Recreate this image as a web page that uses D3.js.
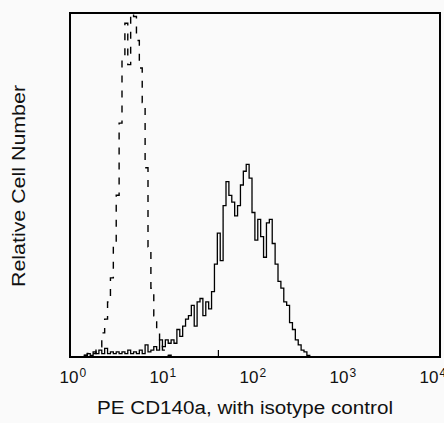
<!DOCTYPE html>
<html>
<head>
<meta charset="utf-8">
<script src="https://cdn.jsdelivr.net/npm/d3@7/dist/d3.min.js"></script>
<style>
  html, body { margin: 0; padding: 0; background: #fafafa; }
  svg { display: block; font-family: "Liberation Sans", Arial, Helvetica, sans-serif; }
</style>
</head>
<body>
<svg id="chart" width="444" height="423"></svg>
<script>
// ---- Data ----
// x range of the plot in log10 units (frame edges)
const xDomainLog = [-0.0256, 4.0856];
// histogram channels: bin i covers log10 = firstBinLog + i*binWidthLog ...
const firstBinLog = -0.0256;
const binWidthLog = 0.0321;
const tickValues = [1, 10, 100, 1000, 10000];
const tickExponents = ["0", "1", "2", "3", "4"];
// PE CD140a (solid), relative counts, bins 0..83
const stained = [0,0,0,0,0, 0.5,1,0.5,1.5,1, 2,1,2.5,1,1.5, 1,1.5,1,1.5,1,
  2,1,1.5,1,2, 1,3.5,1.5,2,3, 2,5,3,5,4, 5,4,8,6,9,
  11,12,15,9,16, 17,12,16,14,19, 27,36,28,44,51, 47,45,41,44,50,
  54,56,52,42,34, 40,35,29,39,40, 33,27,22,20,16, 15,10,8,5,3.5,
  2,1.5,0.5,0];
// isotype control (dashed), relative counts, bins 0..35
const isotype = [0,0,0,0,0, 0.5,1,1.5,1,2, 3,7,11,16,23, 33,47,68,86,97,
  85,100,99,92,84, 74,55,32,20,12, 7,4,2,1,0.5, 0];
const markers = [42];
const xTitle = "PE CD140a, with isotype control";
const yTitle = "Relative Cell Number";

// ---- Layout ----
const svg = d3.select("#chart");
const mLeft = 70, mRight = 440, mTop = 13, mBottom = 357;

const x = d3.scaleLog()
  .domain(xDomainLog.map(v => Math.pow(10, v)))
  .range([mLeft, mRight]);
const y = d3.scaleLinear().domain([0, 100]).range([mBottom, mTop]);

function toSteps(vals) {
  const edge = i => Math.pow(10, firstBinLog + i * binWidthLog);
  const pts = vals.map((v, i) => [edge(i), v]);
  pts.push([edge(vals.length), vals[vals.length - 1]]);
  return pts;
}
const line = d3.line()
  .x(d => x(d[0]))
  .y(d => y(d[1]))
  .curve(d3.curveStepAfter);

svg.append("path")
  .datum(toSteps(isotype))
  .attr("d", line)
  .attr("fill", "none")
  .attr("stroke", "#000")
  .attr("stroke-width", 1.4)
  .attr("stroke-dasharray", "7,8");

svg.append("path")
  .datum(toSteps(stained))
  .attr("d", line)
  .attr("fill", "none")
  .attr("stroke", "#000")
  .attr("stroke-width", 1.3);

// gate marker tick
svg.selectAll("line.marker")
  .data(markers)
  .join("line")
  .attr("class", "marker")
  .attr("x1", d => x(d)).attr("x2", d => x(d))
  .attr("y1", mBottom).attr("y2", mBottom - 7)
  .attr("stroke", "#000").attr("stroke-width", 1.2);

// frame
svg.append("rect")
  .attr("x", mLeft).attr("y", mTop)
  .attr("width", mRight - mLeft).attr("height", mBottom - mTop)
  .attr("fill", "none").attr("stroke", "#000").attr("stroke-width", 2);

// x axis labels: whole "10^n" label centred on the tick
const axis = d3.axisBottom(x).tickValues(tickValues).tickSize(0).tickFormat(() => "");
const gx = svg.append("g").attr("transform", `translate(0,${mBottom})`).call(axis);
gx.select(".domain").remove();
gx.selectAll(".tick text").each(function(d, i) {
  const t = d3.select(this)
    .attr("y", 26).attr("dy", 0)
    .attr("font-size", 17)
    .attr("fill", "#111")
    .attr("font-family", "Liberation Sans, Arial, sans-serif")
    .attr("text-anchor", "middle");
  t.text(null);
  t.append("tspan").text("10");
  t.append("tspan").attr("dx", 1).attr("dy", -6).attr("font-size", 12).text(tickExponents[i]);
});

// titles
svg.append("text")
  .attr("x", 245).attr("y", 414)
  .attr("text-anchor", "middle")
  .attr("font-size", 18)
  .attr("fill", "#111")
  .attr("textLength", 296)
  .attr("lengthAdjust", "spacingAndGlyphs")
  .text(xTitle);

svg.append("text")
  .attr("transform", `translate(25,${(mTop + mBottom) / 2 + 1}) rotate(-90)`)
  .attr("text-anchor", "middle")
  .attr("font-size", 18)
  .attr("fill", "#111")
  .attr("textLength", 202)
  .attr("lengthAdjust", "spacingAndGlyphs")
  .text(yTitle);
</script>
</body>
</html>
